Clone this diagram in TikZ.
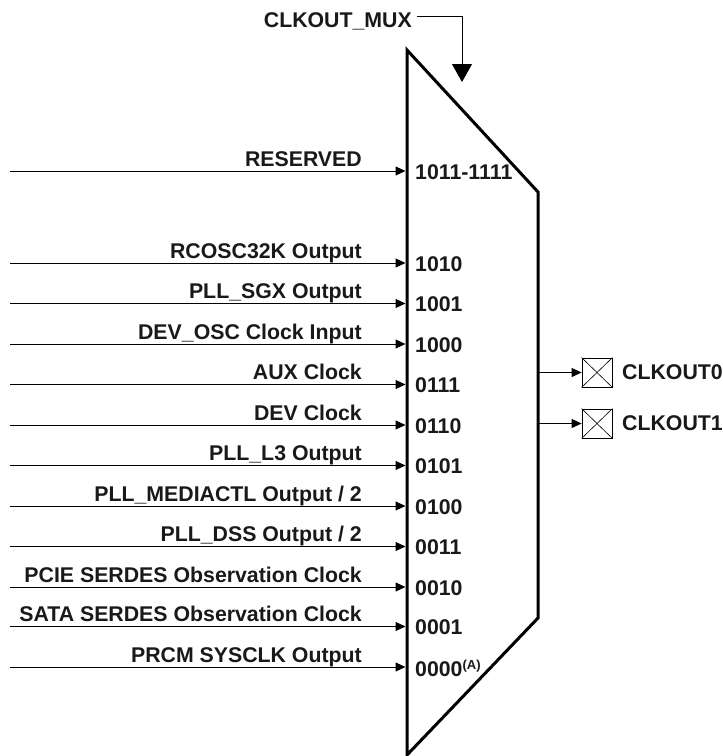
\documentclass[tikz,border=0pt]{standalone}
\usepackage{fontspec}
\setmainfont{Liberation Sans}
\usetikzlibrary{arrows.meta}
\begin{document}
\begin{tikzpicture}[x=1pt,y=-1pt,
  lbl/.style={font=\fontsize{21.3}{24}\selectfont\bfseries, inner sep=0pt, text=black!90},
  inlbl/.style={lbl, anchor=base east},
  portlbl/.style={lbl, anchor=west},
  inarrow/.style={line width=1pt, -{Triangle[length=10pt,width=9pt]}},
  muxline/.style={line width=3pt, line join=miter},
  outbox/.style={draw, line width=0.8pt, minimum width=30pt, minimum height=29pt, inner sep=0pt}]
\useasboundingbox (0,0) rectangle (723,756);
% mux body
\coordinate (m1) at (407,50);
\coordinate (m2) at (538,192);
\coordinate (m3) at (538,618);
\coordinate (m4) at (407,755);
\draw[muxline] (m4) -- (m1) -- (m2) -- (m3) -- cycle;
% select input
\node[lbl, anchor=base east] (sel) at (412,27) {CLKOUT\_MUX};
\coordinate (selc) at (462,16);
\coordinate (selt) at (462,82);
\draw[line width=1pt, -{Triangle[length=18pt,width=20pt]}] (sel.east |- selc) ++(5,0) -- (selc) -- (selt);
% inputs
\foreach \n/\y/\txt/\port in {
  0/171/{RESERVED}/{1011-1111},
  1/263/{RCOSC32K Output}/{1010},
  2/303.5/{PLL\_SGX Output}/{1001},
  3/344/{DEV\_OSC Clock Input}/{1000},
  4/384.5/{AUX Clock}/{0111},
  5/425/{DEV Clock}/{0110},
  6/465.5/{PLL\_L3 Output}/{0101},
  7/506/{PLL\_MEDIACTL Output / 2}/{0100},
  8/546.5/{PLL\_DSS Output / 2}/{0011},
  9/587/{PCIE SERDES Observation Clock}/{0010},
  10/626.5/{SATA SERDES Observation Clock}/{0001}}{
  \coordinate (s\n) at (10,\y);
  \coordinate (e\n) at (405.5,\y);
  \draw[inarrow] (s\n) -- (e\n);
  \node[inlbl] (l\n) at (362,\y-5) {\txt};
  \node[portlbl] (p\n) at (415,\y+1) {\port};
}
\coordinate (s11) at (10,667);
\coordinate (e11) at (405.5,667);
\draw[inarrow] (s11) -- (e11);
\node[inlbl] (l11) at (362,662) {PRCM SYSCLK Output};
\node[portlbl] (p11) at (415,668) {0000\raisebox{7pt}{\fontsize{13}{14}\selectfont(A)}};
% outputs
\node[outbox] (b0) at (597,372.5) {};
\node[outbox] (b1) at (597,423.5) {};
\foreach \b in {b0,b1}{
  \draw[line width=0.6pt] (\b.north west) -- (\b.south east) (\b.south west) -- (\b.north east);
}
\coordinate (o0) at (538,372.5);
\coordinate (o1) at (538,423.5);
\draw[inarrow] (o0) -- (b0.west);
\draw[inarrow] (o1) -- (b1.west);
\node[portlbl] (t0) at (622,372.5) {CLKOUT0};
\node[portlbl] (t1) at (622,423.5) {CLKOUT1};
\end{tikzpicture}
\end{document}
